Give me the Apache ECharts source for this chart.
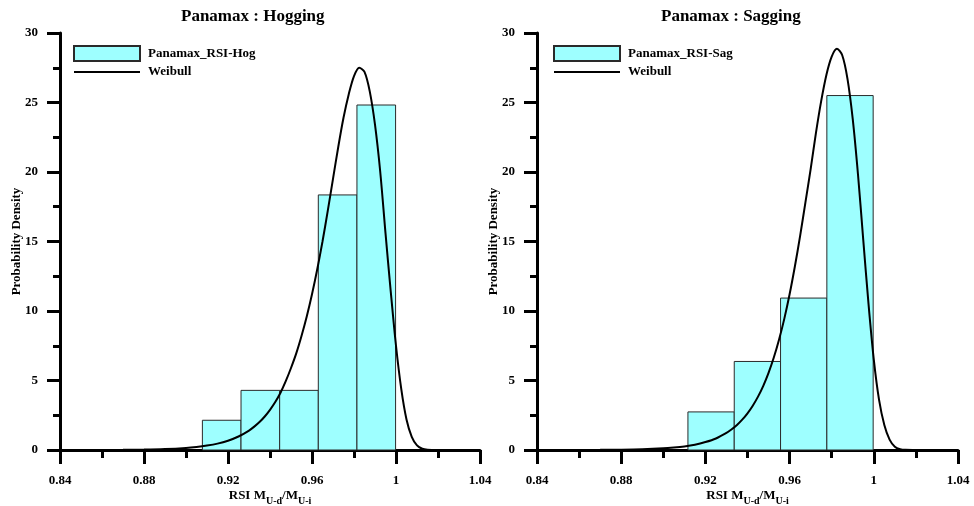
<!DOCTYPE html>
<html>
<head>
<meta charset="utf-8">
<script src="https://cdn.jsdelivr.net/npm/echarts@6/dist/echarts.min.js"></script>
<style>html,body{margin:0;padding:0;background:#fff}#c{width:974px;height:506px}</style>
</head>
<body>
<div id="c"></div>
<script>
// ---- data ----
const xTicks = [0.84, 0.88, 0.92, 0.96, 1.00, 1.04];
const yTicks = [0, 5, 10, 15, 20, 25, 30];

const hogBinStart = [0.9078, 0.9262, 0.9446, 0.9630, 0.9814];
const hogBinEnd   = [0.9262, 0.9446, 0.9630, 0.9814, 0.9998];
const hogDensity  = [2.14, 4.29, 4.29, 18.35, 24.82];

const sagBinStart = [0.9117, 0.9337, 0.9557, 0.9777];
const sagBinEnd   = [0.9337, 0.9557, 0.9777, 0.9997];
const sagDensity  = [2.74, 6.37, 10.93, 25.5];

const hogWeibullX = [0.84, 0.86, 0.87, 0.88, 0.89, 0.90, 0.905, 0.91, 0.915, 0.92, 0.925,
  0.930, 0.9325, 0.935, 0.9375, 0.940, 0.9425, 0.945, 0.9475, 0.950, 0.9525, 0.955, 0.9575,
  0.960, 0.9625, 0.965, 0.9675, 0.970, 0.9725, 0.975, 0.9775, 0.980, 0.9825, 0.985, 0.9875,
  0.990, 0.9925, 0.995, 0.9975, 1.000, 1.0025, 1.005, 1.0075, 1.010, 1.0125, 1.015, 1.02];
const hogWeibullY = [0.0, 0.005, 0.012, 0.03, 0.07, 0.15, 0.22, 0.32, 0.46, 0.67, 0.97,
  1.40, 1.68, 2.01, 2.41, 2.89, 3.45, 4.12, 4.95, 5.9, 6.95, 8.2, 9.6,
  11.2, 13.0, 15.0, 17.2, 19.5, 21.8, 23.9, 25.6, 26.9, 27.5, 27.2, 25.8,
  23.4, 20.0, 15.6, 11.4, 7.5, 4.4, 2.2, 0.95, 0.33, 0.09, 0.02, 0.0];

const sagWeibullX = [0.84, 0.86, 0.87, 0.88, 0.89, 0.90, 0.905, 0.91, 0.915, 0.92, 0.925,
  0.930, 0.9325, 0.935, 0.9375, 0.940, 0.9425, 0.945, 0.9475, 0.950, 0.9525, 0.955, 0.9575,
  0.960, 0.9625, 0.965, 0.9675, 0.970, 0.9725, 0.975, 0.9775, 0.980, 0.9825, 0.985, 0.9875,
  0.990, 0.9925, 0.995, 0.9975, 1.000, 1.0025, 1.005, 1.0075, 1.010, 1.0125, 1.015, 1.02];
const sagWeibullY = [0.0, 0.005, 0.011, 0.024, 0.054, 0.12, 0.18, 0.26, 0.38, 0.57, 0.83,
  1.23, 1.49, 1.80, 2.18, 2.64, 3.19, 3.84, 4.62, 5.55, 6.65, 7.95, 9.45,
  11.2, 13.2, 15.4, 17.8, 20.2, 22.8, 25.1, 27.0, 28.3, 28.86, 28.4, 26.7,
  23.8, 19.8, 15.1, 10.5, 6.5, 3.6, 1.8, 0.75, 0.24, 0.06, 0.01, 0.0];

const titles = ['Panamax : Hogging', 'Panamax : Sagging'];
const histNames = ['Panamax_RSI-Hog', 'Panamax_RSI-Sag'];
const curveName = 'Weibull';
const yName = 'Probability Density';

// ---- build ----
const FF = "'Liberation Serif','Times New Roman',serif";
const bins = (s, e, d) => s.map((v, i) => [v, e[i], d[i]]);
const pts = (xs, ys) => xs.map((v, i) => [v, ys[i]]);

function renderBin(params, api) {
  const p0 = api.coord([api.value(0), 0]);
  const p1 = api.coord([api.value(1), api.value(2)]);
  return {
    type: 'rect',
    shape: { x: p0[0], y: p1[1], width: p1[0] - p0[0], height: p0[1] - p1[1] },
    style: api.style()
  };
}

const grids = [
  { left: 60, top: 33, width: 420, height: 417, outerBoundsMode: 'none', containLabel: false },
  { left: 537, top: 33, width: 421, height: 417, outerBoundsMode: 'none', containLabel: false }
];

function xAxis(gi) {
  return {
    type: 'value', gridIndex: gi,
    min: xTicks[0], max: xTicks[xTicks.length - 1], interval: xTicks[1] - xTicks[0],
    name: '{a|RSI M}{s|U-d}{a|/M}{s|U-i}',
    nameLocation: 'middle', nameGap: 36, nameMoveOverlap: false,
    nameTextStyle: {
      rich: {
        a: { fontFamily: FF, fontWeight: 'bold', fontSize: 13, lineHeight: 20, color: '#000' },
        s: { fontFamily: FF, fontWeight: 'bold', fontSize: 10, lineHeight: 10, verticalAlign: 'bottom', color: '#000' }
      }
    },
    axisLine: { show: true, onZero: false, lineStyle: { color: '#000', width: 3 } },
    axisTick: { show: true, length: 14, lineStyle: { color: '#000', width: 3 } },
    minorTick: { show: true, splitNumber: 2, length: 8, lineStyle: { color: '#000', width: 3 } },
    splitLine: { show: false },
    axisLabel: {
      margin: 24, fontFamily: FF, fontWeight: 'bold', fontSize: 13, color: '#000',
      formatter: v => String(+v.toFixed(2))
    }
  };
}
function yAxis(gi) {
  return {
    type: 'value', gridIndex: gi,
    min: yTicks[0], max: yTicks[yTicks.length - 1], interval: yTicks[1] - yTicks[0],
    name: yName, nameLocation: 'middle', nameGap: 37, nameRotate: 90, nameMoveOverlap: false,
    nameTextStyle: { fontFamily: FF, fontWeight: 'bold', fontSize: 13, color: '#000' },
    axisLine: { show: true, onZero: false, lineStyle: { color: '#000', width: 3 } },
    axisTick: { show: true, length: 13, lineStyle: { color: '#000', width: 3 } },
    minorTick: { show: true, splitNumber: 2, length: 7, lineStyle: { color: '#000', width: 3 } },
    splitLine: { show: false },
    axisLabel: { margin: 22, fontFamily: FF, fontWeight: 'bold', fontSize: 13, color: '#000' }
  };
}

const barStyle = { color: '#9EFFFF', borderColor: '#2a2a2a', borderWidth: 1 };
const lineStyle = { color: '#000', width: 2 };
// line-shaped legend icon: 66x15 box with a 2px bar through the middle
const lineIcon = 'path://M0,0L0.01,0L0.01,0.01Z M0,6.5H66V8.5H0Z M65.99,14.99L66,14.99L66,15Z';

function histSeries(name, data, gi) {
  return {
    type: 'custom', name: name, xAxisIndex: gi, yAxisIndex: gi,
    renderItem: renderBin, data: data, encode: { x: [0, 1], y: 2 },
    itemStyle: barStyle, z: 2, clip: false
  };
}
function curveSeries(data, gi) {
  return {
    type: 'line', name: curveName, xAxisIndex: gi, yAxisIndex: gi,
    data: data, smooth: 0.3, symbol: 'none', showSymbol: false,
    lineStyle: lineStyle, itemStyle: { color: '#000' }, z: 3
  };
}
function legend(gi, left) {
  return {
    orient: 'vertical', left: left, top: 45, padding: 0,
    itemWidth: 66, itemHeight: 15, itemGap: 2.5, selectedMode: false,
    textStyle: { fontFamily: FF, fontWeight: 'bold', fontSize: 13, color: '#000', padding: [0, 0, 0, 3] },
    data: [
      { name: histNames[gi], icon: 'rect' },
      { name: curveName, icon: lineIcon, itemStyle: { color: '#000', borderWidth: 0 } }
    ]
  };
}

const option = {
  animation: false,
  backgroundColor: '#fff',
  title: [
    { text: titles[0], left: 176, top: 3, textStyle: { fontFamily: FF, fontWeight: 'bold', fontSize: 17, color: '#000' } },
    { text: titles[1], left: 656, top: 3, textStyle: { fontFamily: FF, fontWeight: 'bold', fontSize: 17, color: '#000' } }
  ],
  legend: [legend(0, 73), legend(1, 553)],
  grid: grids,
  xAxis: [xAxis(0), xAxis(1)],
  yAxis: [yAxis(0), yAxis(1)],
  series: [
    histSeries(histNames[0], bins(hogBinStart, hogBinEnd, hogDensity), 0),
    curveSeries(pts(hogWeibullX, hogWeibullY), 0),
    histSeries(histNames[1], bins(sagBinStart, sagBinEnd, sagDensity), 1),
    curveSeries(pts(sagWeibullX, sagWeibullY), 1)
  ]
};

const chart = echarts.init(document.getElementById('c'), null, { renderer: 'canvas' });
chart.setOption(option);
</script>
</body>
</html>
